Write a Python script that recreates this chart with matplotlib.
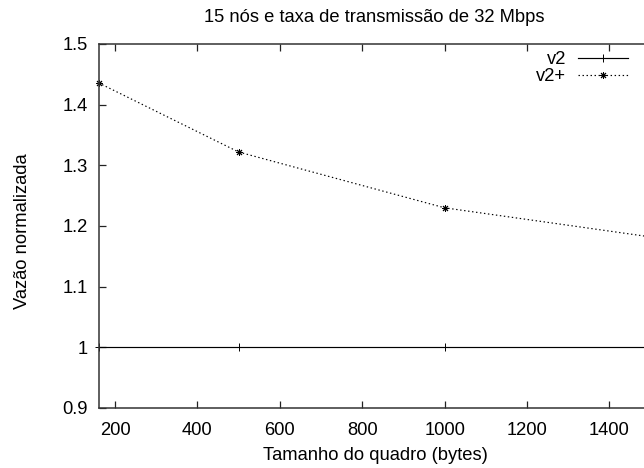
import matplotlib
matplotlib.use("Agg")
import matplotlib.pyplot as plt
from matplotlib.ticker import FuncFormatter

plt.rcParams['font.family'] = ['Liberation Sans', 'DejaVu Sans']

frame_sizes = [160, 500, 1000, 1500]
v2 = [1.0, 1.0, 1.0, 1.0]
v2_plus = [1.436, 1.322, 1.230, 1.182]
x_ticks = [200, 400, 600, 800, 1000, 1200, 1400]
y_ticks = [0.9, 1.0, 1.1, 1.2, 1.3, 1.4, 1.5]

title = "15 nós e taxa de transmissão de 32 Mbps"
xlabel = "Tamanho do quadro (bytes)"
ylabel = "Vazão normalizada"

FS = 13.2

fig = plt.figure(figsize=(6.44, 4.68), dpi=100)
ax = fig.add_axes([98.5/644, 1-408/468, (650.6-98.5)/644, (408-44)/468])

ax.plot(frame_sizes, v2, color='black', lw=0.85, marker='+', ms=5.5, mew=0.7,
        label='v2', clip_on=False)
ax.plot(frame_sizes, v2_plus, color='black', lw=0.85, linestyle=(0, (1.2, 2.2)),
        marker=(8, 2, 0), ms=5, mew=0.7, label='v2+', clip_on=False)

ax.set_xlim(160, 1500)
ax.set_ylim(0.9, 1.5)
ax.set_xticks(x_ticks)
ax.set_yticks(y_ticks)
ax.yaxis.set_major_formatter(FuncFormatter(lambda v, p: f"{v:g}"))
ax.tick_params(direction='in', length=5, width=0.9, labelsize=FS,
               top=True, right=True, colors='#222222', labelcolor='black')
ax.tick_params(axis='x', pad=10)
ax.tick_params(axis='y', pad=8)
for s in ax.spines.values():
    s.set_linewidth(1.1)
    s.set_color('#333333')

fig.text(374.5/644, 1-17.5/468, title, ha='center', va='center', fontsize=FS)
fig.text(375/644, 1-455/468, xlabel, ha='center', va='center', fontsize=FS)
fig.text(23/644, 1-231.5/468, ylabel, ha='center', va='center', rotation=90, fontsize=FS)

fig.legend(loc='upper right', bbox_to_anchor=(628/644, 1-51/468), frameon=False,
           markerfirst=False, handlelength=2.75, handletextpad=0.63, borderpad=0,
           labelspacing=0.0, fontsize=FS, borderaxespad=0)

fig.savefig('out.png', dpi=100)
